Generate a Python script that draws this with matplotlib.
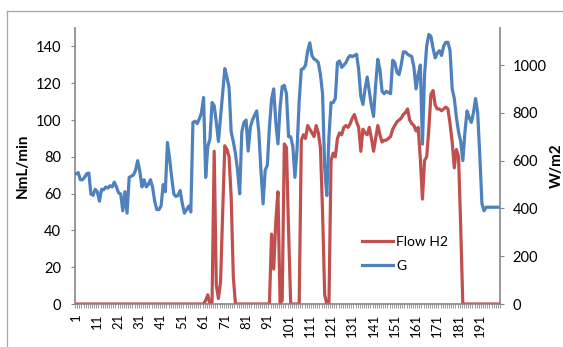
import matplotlib
matplotlib.use("Agg")
import matplotlib.pyplot as plt
from matplotlib.lines import Line2D

# ---------------- data ----------------
samples = list(range(1, 201))

flow_h2 = [
    0, 0, 0, 0, 0, 0, 0, 0, 0, 0,          # 1-10
    0, 0, 0, 0, 0, 0, 0, 0, 0, 0,          # 11-20
    0, 0, 0, 0, 0, 0, 0, 0, 0, 0,          # 21-30
    0, 0, 0, 0, 0, 0, 0, 0, 0, 0,          # 31-40
    0, 0, 0, 0, 0, 0, 0, 0, 0, 0,          # 41-50
    0, 0, 0, 0, 0, 0, 0, 0, 0, 0,          # 51-60
    0, 2, 5, 0, 1, 83, 10, 3, 12, 50,      # 61-70
    86, 84, 80, 58, 15, 0, 0, 0, 0, 0,     # 71-80
    0, 0, 0, 0, 0, 0, 0, 0, 0, 0,          # 81-90
    0, 0, 38, 19, 45, 61, 0, 2, 87, 85,    # 91-100
    40, 0, 0, 0, 0, 0, 89, 92, 90, 97,     # 101-110
    95, 93, 91, 97, 93, 85, 50, 5, 0, 0,   # 111-120
    78, 82, 80, 90, 93, 92, 96, 97, 96, 98,        # 121-130
    101, 103, 99, 96, 83, 95, 93, 92, 96, 90,      # 131-140
    83, 90, 97, 92, 88, 89, 89, 90, 91, 95,        # 141-150
    97, 99, 100, 101, 103, 104, 106, 100, 98, 97,  # 151-160
    94, 96, 79, 57, 78, 80, 95, 114, 116, 108,     # 161-170
    106, 106, 105, 106, 107, 106, 98, 88, 74, 84,  # 171-180
    80, 42, 0, 0, 0, 0, 0, 0, 0, 0,                # 181-190
    0, 0, 0, 0, 0, 0, 0, 0, 0, 0,                  # 191-200
]

g_irr = [
    545, 550, 520, 520, 530, 545, 548, 460, 455, 480,
    470, 430, 480, 478, 490, 485, 495, 490, 510, 490,
    465, 460, 390, 470, 380, 530, 535, 540, 560, 600,
    555, 490, 520, 490, 500, 520, 490, 430, 395, 395,
    410, 500, 470, 676, 610, 530, 460, 450, 455, 475,
    420, 380, 395, 410, 385, 760, 765, 755, 775, 800,
    864, 530, 660, 690, 843, 830, 760, 680, 780, 880,
    985, 950, 905, 720, 680, 630, 560, 461, 720, 760,
    770, 640, 740, 770, 790, 808, 720, 560, 419, 560,
    580, 740, 857, 900, 760, 670, 820, 910, 915, 880,
    700, 700, 660, 530, 650, 850, 982, 985, 1000, 1060,
    1093, 1040, 1025, 1020, 1010, 960, 880, 570, 454, 700,
    843, 843, 860, 1010, 1017, 990, 1000, 1010, 1030, 1040,
    1035, 1040, 1045, 980, 870, 835, 900, 950, 890, 830,
    785, 920, 1024, 980, 890, 880, 890, 885, 880, 1020,
    1010, 970, 960, 1000, 1055, 1055, 1045, 1040, 1035, 990,
    900, 960, 1000, 669, 960, 1080, 1128, 1120, 1070, 1030,
    1050, 1060, 1040, 1080, 1095, 1095, 1060, 900, 860, 780,
    720, 680, 600, 720, 808, 780, 760, 800, 860, 800,
    620, 420, 390, 405, 405, 405, 405, 405, 405, 405,
]

x_tick_labels = [str(v) for v in range(1, 200, 10)]
left_ticks = [0, 20, 40, 60, 80, 100, 120, 140]
right_ticks = [0, 200, 400, 600, 800, 1000]

RED = "#C0504D"
BLUE = "#4F81BD"
AXC = "#868686"

plt.rcParams["font.family"] = ["Lato", "DejaVu Sans"]

W, H = 563, 347
fig = plt.figure(figsize=(W / 100, H / 100), dpi=100)

# chart-area border (partially visible, top and left)
fig.add_artist(Line2D([7 / W, 7 / W], [0, 1 - 11 / H], transform=fig.transFigure,
                      color="#A6A6A6", lw=0.9))
fig.add_artist(Line2D([7 / W, 1], [1 - 11 / H, 1 - 11 / H], transform=fig.transFigure,
                      color="#A6A6A6", lw=0.9))

x0, x1 = 75, 500
ax = fig.add_axes([x0 / W, 1 - 304 / H, (x1 - x0) / W, (304 - 28) / H])
ax2 = ax.twinx()

l1, = ax.plot(samples, flow_h2, color=RED, lw=2.3, solid_joinstyle="round")
l2, = ax2.plot(samples, g_irr, color=BLUE, lw=2.3, solid_joinstyle="round")

ax.set_xlim(0.5, 200.5)
ax.set_ylim(0, 150)
ax2.set_ylim(0, 1155)

ax.set_yticks(left_ticks)
ax.set_yticklabels([str(v) for v in left_ticks])
ax2.set_yticks(right_ticks)
ax2.set_yticklabels([str(v) for v in right_ticks])

ax.set_xticks(list(range(1, 200, 10)))
ax.set_xticklabels(x_tick_labels, rotation=90, fontsize=9.5)
ax.set_xticks([v + 0.5 for v in range(0, 201)], minor=True)
ax.tick_params(axis="x", which="major", length=0, pad=7)
ax.tick_params(axis="x", which="minor", length=3, width=0.6, color=AXC)

ax.tick_params(axis="y", which="major", length=3, width=0.8, color=AXC,
               labelsize=10.5, pad=7)
ax2.tick_params(axis="y", which="major", length=3, width=0.8, color=AXC,
                labelsize=10.5, pad=6)

for a in (ax, ax2):
    a.spines["top"].set_visible(False)
    for s in ("left", "right", "bottom"):
        a.spines[s].set_color(AXC)
        a.spines[s].set_linewidth(1.2)
ax.spines["right"].set_visible(False)
ax2.spines["left"].set_visible(False)
ax2.spines["bottom"].set_visible(False)

ax.set_ylabel("NmL/min", fontsize=11, fontweight="bold")
ax.yaxis.set_label_coords((30 - x0) / (x1 - x0), 0.5)
ax2.set_ylabel("W/m2", fontsize=11, fontweight="bold", rotation=90)
ax2.yaxis.set_label_coords((550 - x0) / (x1 - x0), 0.5)

leg = ax2.legend([l1, l2], ["Flow H2", "G"], loc="upper left",
                 bbox_to_anchor=(362 / W, 1 - 236 / H), bbox_transform=fig.transFigure,
                 frameon=False, fontsize=10, handlelength=2.2, handletextpad=0.25,
                 labelspacing=0.85, borderpad=0, borderaxespad=0)

fig.savefig("out.png", dpi=100)
